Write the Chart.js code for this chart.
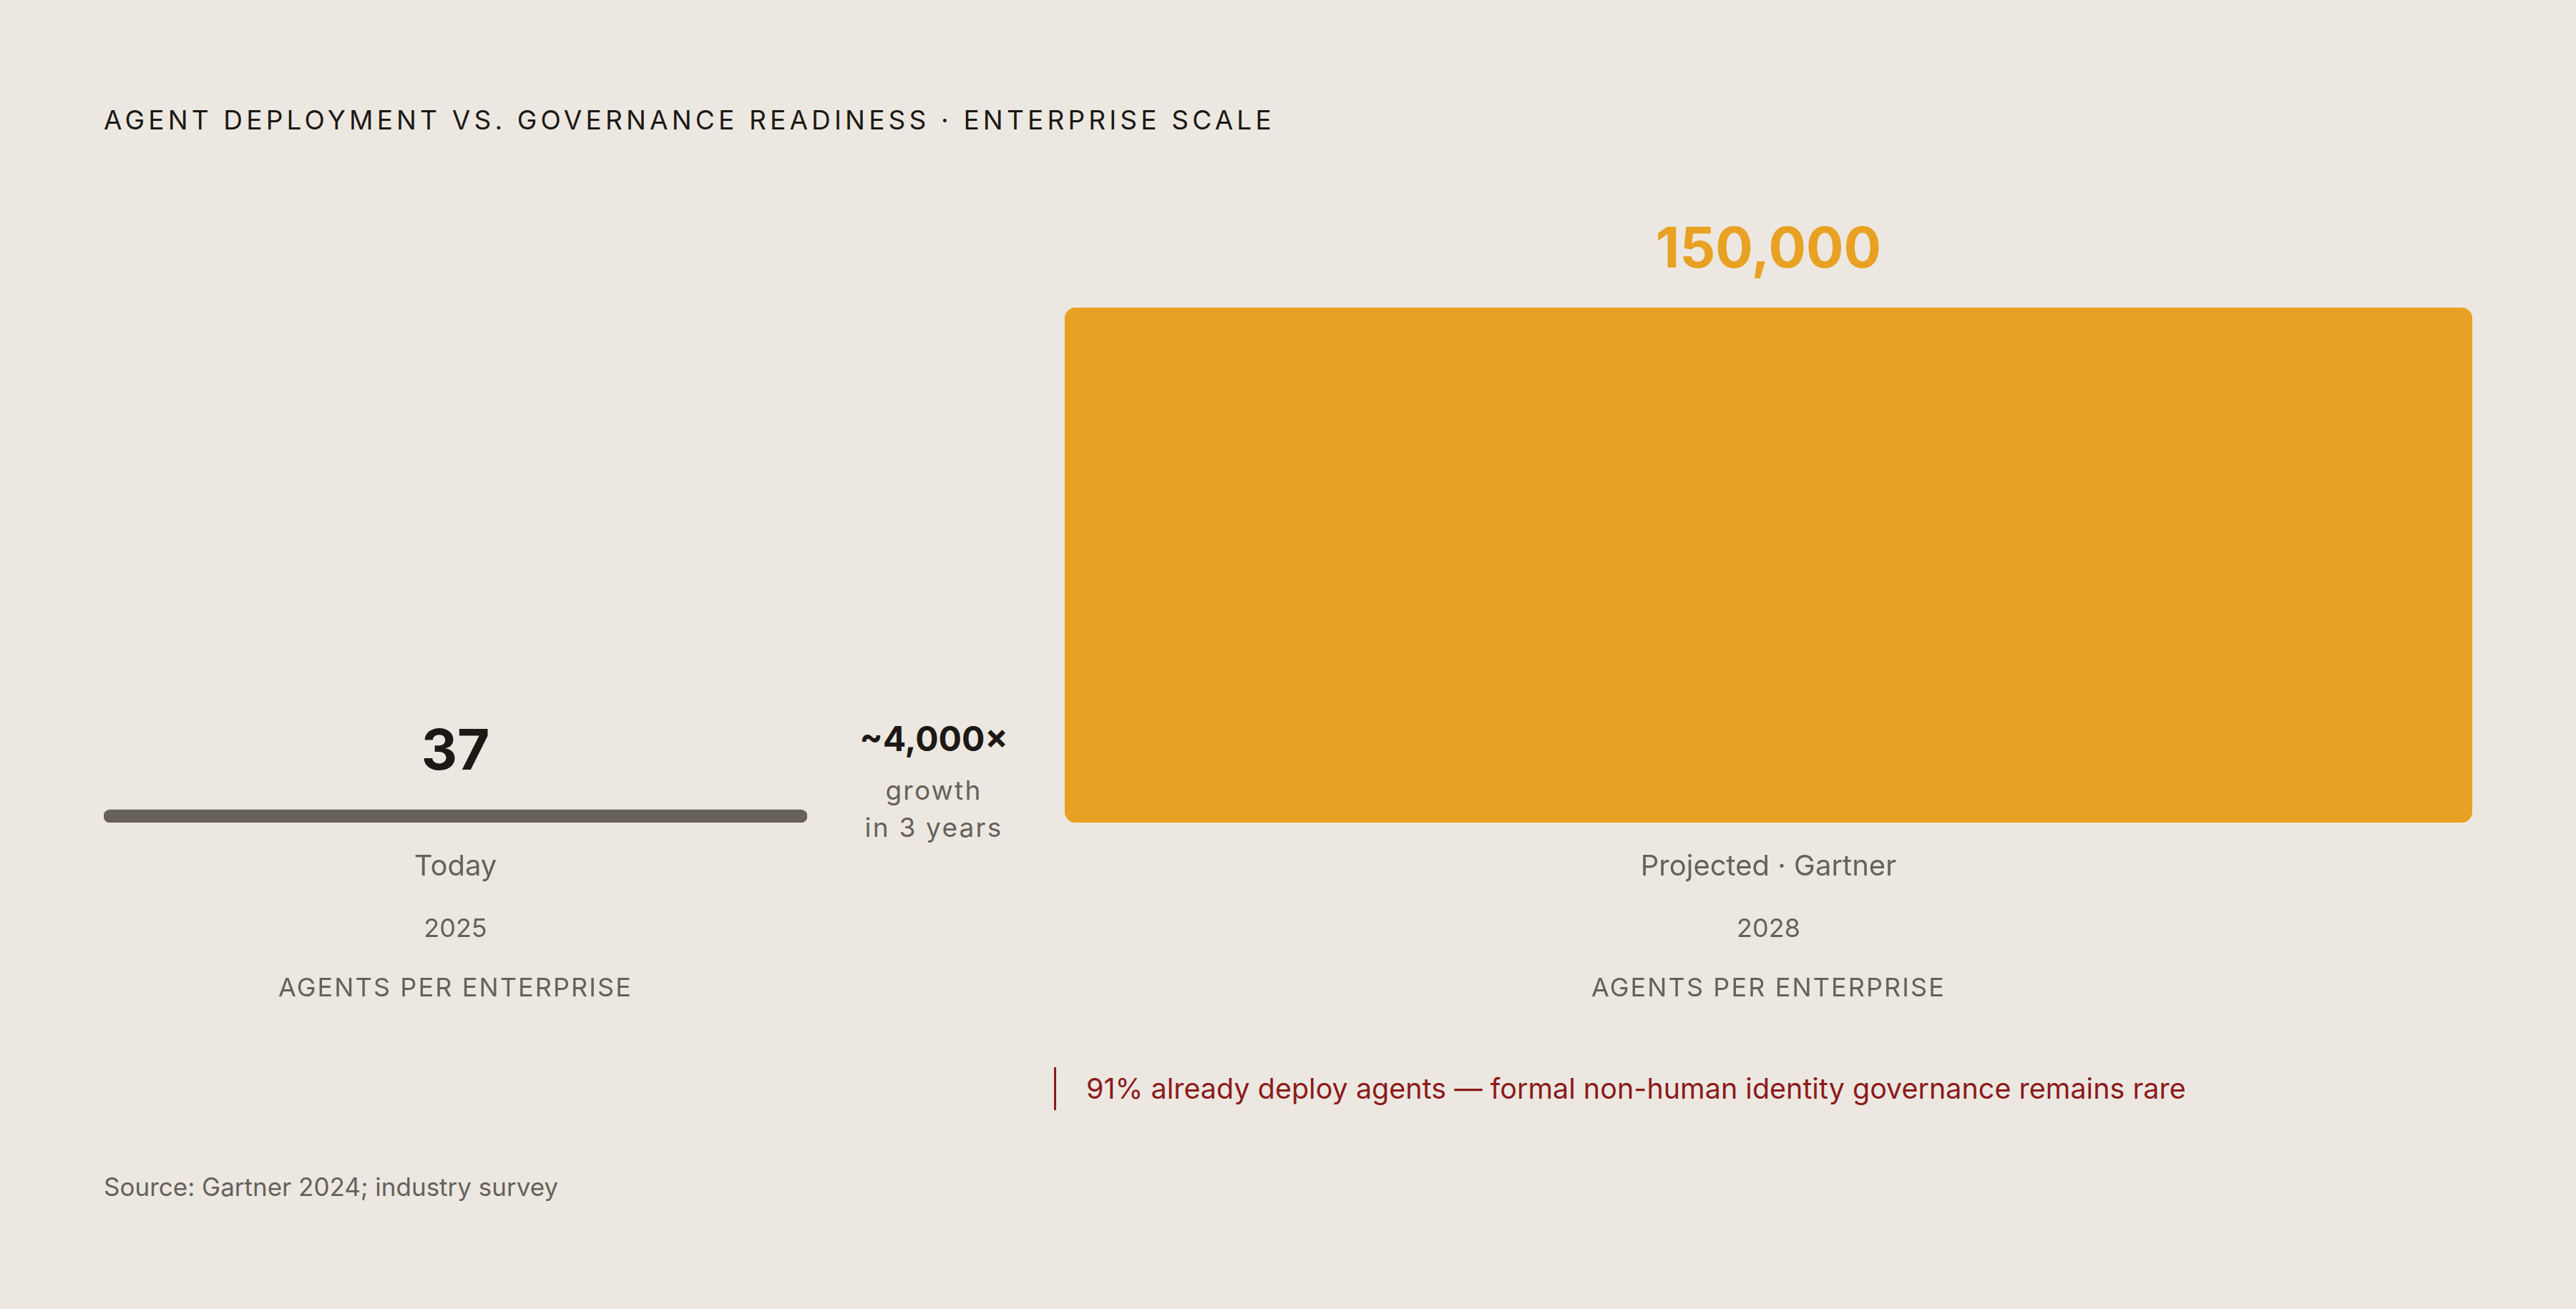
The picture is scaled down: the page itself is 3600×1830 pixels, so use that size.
<!DOCTYPE html>
<html>
<head>
<meta charset="utf-8">
<script src="https://cdn.jsdelivr.net/npm/chart.js@4.4.1/dist/chart.umd.min.js"></script>
<style>
  html, body { margin: 0; padding: 0; }
  body {
    width: 3600px; height: 1830px; overflow: hidden; position: relative;
    background: #ece8e1; font-family: Inter, 'DejaVu Sans', sans-serif;
  }
  .abs { position: absolute; white-space: nowrap; }
  #title {
    left: 145px; top: 149px; font-size: 37px; line-height: 37px;
    letter-spacing: 0.14em; color: #1c1815; font-weight: 400;
  }
  #growth {
    left: 1155px; top: 1005px; width: 300px; text-align: center; color: #66615b;
  }
  #growth .big { font-size: 48px; line-height: 56px; font-weight: 700; color: #1c1815; margin-bottom: 18px; }
  #growth .sm { font-size: 37px; line-height: 52px; letter-spacing: 0.06em; }
  #note {
    left: 1473px; top: 1492px; height: 60px; line-height: 60px; padding-left: 42px;
    border-left: 3px solid #8b1a1a; color: #8b1a1a; font-size: 39.5px;
  }
  #source { left: 145px; top: 1639px; font-size: 35px; line-height: 40px; color: #66615b; }
  canvas { position: absolute; }
</style>
</head>
<body>
<div id="title" class="abs">AGENT DEPLOYMENT VS. GOVERNANCE READINESS · ENTERPRISE SCALE</div>

<canvas id="chart-today" width="983" height="1170" style="left:145px; top:250px;"></canvas>
<canvas id="chart-2028" width="1967" height="1170" style="left:1488px; top:250px;"></canvas>

<div id="growth" class="abs">
  <div class="big">~4,000×</div>
  <div class="sm">growth</div>
  <div class="sm">in 3 years</div>
</div>

<div id="note" class="abs">91% already deploy agents — formal non-human identity governance remains rare</div>
<div id="source" class="abs">Source: Gartner 2024; industry survey</div>

<script>
/* Agents per enterprise: today vs. Gartner projection */

const CATEGORIES = ['Today', 'Projected · Gartner'];
const YEARS      = ['2025', '2028'];
const UNITS      = ['AGENTS PER ENTERPRISE', 'AGENTS PER ENTERPRISE'];
const AGENTS     = [37, 150000];
const Y_MAX      = 150000;

const BAR_COLORS   = ['#67615b', '#e8a122'];
const VALUE_COLORS = ['#1c1815', '#e8a122'];
const MUTED = '#66615b';
const FONT  = 'Inter, "DejaVu Sans", sans-serif';

const barLabels = {
  id: 'barLabels',
  afterDatasetsDraw(chart, args, opts) {
    const i = opts.index;
    const bar = chart.getDatasetMeta(0).data[0];
    const ctx = chart.ctx;
    const top = Math.min(bar.y, bar.base);
    const bottom = Math.max(bar.y, bar.base);
    ctx.save();
    ctx.textAlign = 'center';
    ctx.textBaseline = 'alphabetic';

    ctx.fillStyle = VALUE_COLORS[i];
    ctx.font = `700 78px ${FONT}`;
    ctx.fillText(AGENTS[i].toLocaleString('en-US'), bar.x, top - 56);

    ctx.fillStyle = MUTED;
    ctx.font = `400 40px ${FONT}`;
    ctx.fillText(CATEGORIES[i], bar.x, bottom + 74);

    ctx.font = `400 36px ${FONT}`;
    ctx.fillText(YEARS[i], bar.x, bottom + 160);

    ctx.letterSpacing = '2.1px';
    ctx.fillText(UNITS[i], bar.x, bottom + 243);
    ctx.restore();
  }
};

function makeChart(canvasId, i) {
  return new Chart(document.getElementById(canvasId), {
    type: 'bar',
    data: {
      labels: [CATEGORIES[i]],
      datasets: [{
        label: 'Agents per enterprise',
        data: [AGENTS[i]],
        backgroundColor: BAR_COLORS[i],
        borderWidth: 0,
        borderSkipped: false,
        borderRadius: i === 0 ? 9 : 16,
        minBarLength: 18,
        barPercentage: 1,
        categoryPercentage: 1,
      }],
    },
    options: {
      responsive: false,
      maintainAspectRatio: false,
      animation: false,
      devicePixelRatio: 1,
      layout: { padding: { top: 180, bottom: 270, left: 0, right: 0 } },
      plugins: {
        legend: { display: false },
        tooltip: { enabled: false },
        barLabels: { index: i },
      },
      scales: {
        x: { display: false },
        y: { display: false, min: 0, max: Y_MAX },
      },
    },
    plugins: [barLabels],
  });
}

makeChart('chart-today', 0);
makeChart('chart-2028', 1);
</script>
</body>
</html>
